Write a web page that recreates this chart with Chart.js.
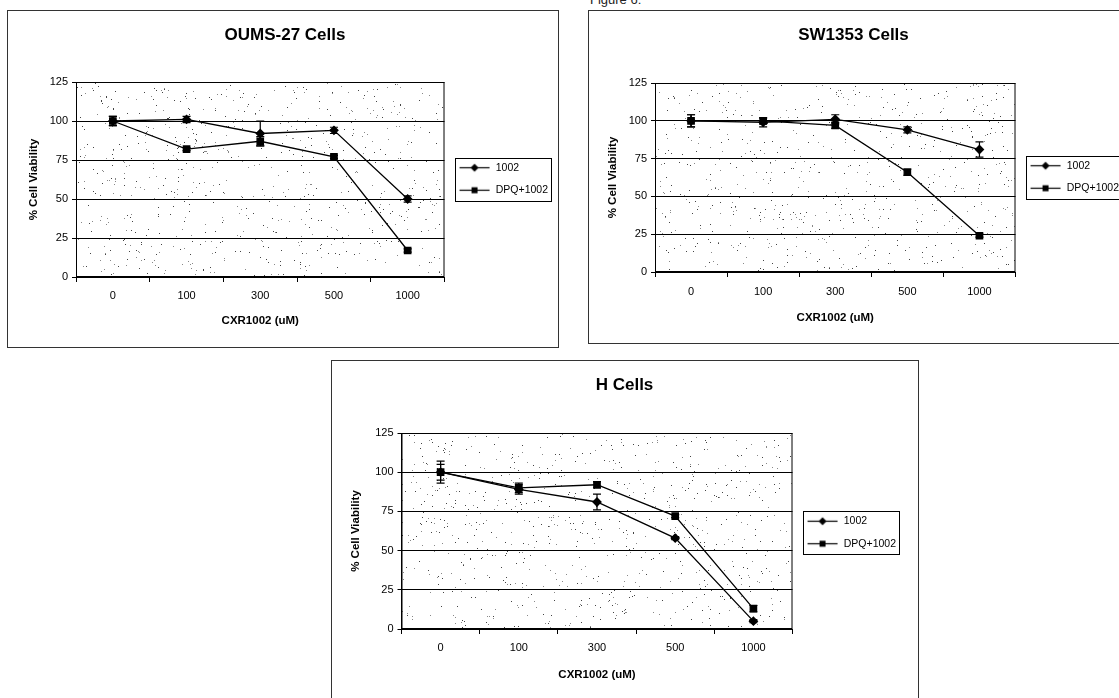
<!DOCTYPE html>
<html>
<head>
<meta charset="utf-8">
<script src="https://cdn.jsdelivr.net/npm/chart.js@4.4.1/dist/chart.umd.min.js"></script>
<style>
  body { margin:0; width:1119px; height:698px; overflow:hidden; background:#fff; position:relative;
         font-family:"Liberation Sans", Arial, sans-serif; }
  .frame { position:absolute; border:1px solid #333; box-sizing:border-box; }
  .wrap { position:absolute; }
  #fig { position:absolute; left:590px; top:-8px; font-size:13px; color:#222; }
</style>
</head>
<body>
<div id="fig">Figure 6:</div>

<div class="frame" style="left:7px;top:10px;width:552px;height:338px"></div>
<div class="frame" style="left:588px;top:10px;width:560px;height:334px"></div>
<div class="frame" style="left:331px;top:360px;width:588px;height:400px"></div>

<div class="wrap" style="left:12px;top:10px;width:546px;height:338px"><canvas id="c-oums"></canvas></div>
<div class="wrap" style="left:578px;top:10px;width:551px;height:334px"><canvas id="c-sw"></canvas></div>
<div class="wrap" style="left:343px;top:360px;width:563px;height:345px"><canvas id="c-h"></canvas></div>

<script>
// ---- data ----
const doses = ['0', '100', '300', '500', '1000'];
const seriesNames = ['1002', 'DPQ+1002'];

// OUMS-27 Cells
const oums1002 = [100, 101, 92, 94, 50];
const oums1002Err = [3, 2, 8, 2, 2];
const oumsDpq = [100, 82, 87, 77, 17];
const oumsDpqErr = [3, 1, 3, 1, 1];

// SW1353 Cells
const sw1002 = [100, 99, 101, 94, 81];
const sw1002Err = [4, 3, 3, 2, 5];
const swDpq = [100, 100, 97, 66, 24];
const swDpqErr = [4, 2, 2, 2, 1];

// H Cells
const h1002 = [100, 89, 81, 58, 5];
const h1002Err = [7, 3, 5, 1, 1];
const hDpq = [100, 90, 92, 72, 13];
const hDpqErr = [5, 3, 2, 1, 2];

const FONT = '"Liberation Sans", Arial, sans-serif';

// legend sample: short line with the marker in the middle
function legendSample(style) {
  const c = document.createElement('canvas');
  c.width = 34; c.height = 11;
  const g = c.getContext('2d');
  g.strokeStyle = '#000'; g.lineWidth = 1.2;
  g.beginPath(); g.moveTo(3, 5.5); g.lineTo(33, 5.5); g.stroke();
  g.fillStyle = '#000';
  if (style === 'rect') {
    g.fillRect(15, 2.5, 6, 6);
  } else {
    g.beginPath(); g.moveTo(18, 1.5); g.lineTo(22, 5.5); g.lineTo(18, 9.5); g.lineTo(14, 5.5); g.closePath(); g.fill();
  }
  return c;
}

// integer hash -> [0,1), only used for the scan speckle texture
function hash01(n) {
  n = Math.imul(n ^ (n >>> 16), 0x45d9f3b);
  n = Math.imul(n ^ (n >>> 16), 0x45d9f3b);
  n ^= n >>> 16;
  return (n >>> 0) / 4294967296;
}

// plot area: white with scanned speckle
const plotBg = {
  id: 'plotBg',
  beforeDraw(chart, args, opts) {
    const a = chart.chartArea, ctx = chart.ctx;
    ctx.save();
    ctx.fillStyle = '#fff';
    ctx.fillRect(a.left, a.top, a.width, a.height);
    const base = (opts.seed || 7) * 100003;
    const n = Math.round(a.width * a.height / 95);
    for (let i = 0; i < n; i++) {
      const x = a.left + hash01(base + i * 2) * a.width;
      const y = a.top + hash01(base + i * 2 + 1) * a.height;
      ctx.fillStyle = hash01(base + i * 7 + 3) < 0.5 ? '#444' : '#888';
      ctx.fillRect(Math.floor(x), Math.floor(y), 1, 1);
    }
    ctx.restore();
  },
  beforeDatasetsDraw(chart) {
    const a = chart.chartArea, ctx = chart.ctx;
    ctx.save();
    ctx.strokeStyle = '#000'; ctx.lineWidth = 1;
    ctx.strokeRect(a.left + 0.5, a.top + 0.5, a.width - 1, a.height - 1);
    ctx.restore();
  }
};

const errorBars = {
  id: 'errorBars',
  afterDatasetsDraw(chart) {
    const ctx = chart.ctx, y = chart.scales.y;
    ctx.save();
    ctx.strokeStyle = '#000'; ctx.lineWidth = 1.2;
    chart.data.datasets.forEach((ds, di) => {
      const meta = chart.getDatasetMeta(di);
      ds.errors.forEach((e, i) => {
        const p = meta.data[i], v = ds.data[i];
        const y1 = y.getPixelForValue(v + e), y2 = y.getPixelForValue(v - e);
        ctx.beginPath();
        ctx.moveTo(p.x, y1); ctx.lineTo(p.x, y2);
        ctx.moveTo(p.x - 4, y1); ctx.lineTo(p.x + 4, y1);
        ctx.moveTo(p.x - 4, y2); ctx.lineTo(p.x + 4, y2);
        ctx.stroke();
      });
    });
    ctx.restore();
  }
};

const legendBox = {
  id: 'legendBox',
  afterDraw(chart) {
    const hb = chart.legend && chart.legend.legendHitBoxes;
    if (!hb || !hb.length) return;
    const left = Math.min(...hb.map(b => b.left)) - 2;
    const right = Math.max(...hb.map(b => b.left + b.width)) + 3;
    const top = hb[0].top - 5;
    const last = hb[hb.length - 1];
    const bottom = last.top + last.height + 5;
    const ctx = chart.ctx;
    ctx.save();
    ctx.strokeStyle = '#000'; ctx.lineWidth = 1;
    ctx.strokeRect(Math.round(left) + 0.5, Math.round(top) + 0.5, Math.round(right - left), Math.round(bottom - top));
    ctx.restore();
  }
};

function drawPanel(id, title, plain, plainErr, dpq, dpqErr, g) {
  new Chart(document.getElementById(id), {
    type: 'line',
    data: {
      labels: doses,
      datasets: [
        { label: seriesNames[0], data: plain, errors: plainErr, borderColor: '#000', borderWidth: 1.3,
          pointStyle: 'rectRot', pointRadius: 4, backgroundColor: '#000', pointBorderColor: '#000' },
        { label: seriesNames[1], data: dpq, errors: dpqErr, borderColor: '#000', borderWidth: 1.3,
          pointStyle: 'rect', pointRadius: 4.5, backgroundColor: '#000', pointBorderColor: '#000' }
      ]
    },
    options: {
      responsive: true, maintainAspectRatio: false, animation: false,
      layout: { padding: 0 },
      plugins: {
        plotBg: { seed: g.seed },
        tooltip: { enabled: false },
        title: { display: true, text: title, color: '#000',
                 font: { family: FONT, size: 17, weight: 'bold' },
                 padding: { top: 14.8, bottom: g.titleBottom } },
        legend: {
          position: 'right', align: 'center',
          labels: {
            usePointStyle: true, pointStyleWidth: 34, padding: 12, color: '#000',
            font: { family: FONT, size: 10.5 },
            generateLabels: (chart) => chart.data.datasets.map((ds, i) => ({
              text: ds.label, pointStyle: legendSample(ds.pointStyle), datasetIndex: i,
              hidden: false, lineWidth: 0, fontColor: '#000'
            }))
          }
        }
      },
      scales: {
        x: {
          offset: true,
          afterFit: (s) => { s.height = g.xHeight; },
          grid: { display: true, offset: true, drawOnChartArea: false, drawTicks: true, tickLength: 5, color: '#000' },
          border: { display: true, color: '#000', width: 1 },
          ticks: { color: '#000', padding: g.xTickPad, maxRotation: 0, autoSkip: false, font: { family: FONT, size: 11 } },
          title: { display: true, text: 'CXR1002 (uM)', color: '#000',
                   font: { family: FONT, size: 11.5, weight: 'bold' }, padding: { top: 0, bottom: g.xTitleBottom } }
        },
        y: {
          min: 0, max: 125,
          afterFit: (s) => { s.width = g.yWidth; },
          grid: { color: '#000', lineWidth: 1, tickLength: 4 },
          border: { display: true, color: '#000', width: 1 },
          ticks: { stepSize: 25, color: '#000', padding: 4, font: { family: FONT, size: 11 } },
          title: { display: true, text: '% Cell Viability', color: '#000',
                   font: { family: FONT, size: 11.5, weight: 'bold' }, padding: { top: g.yTitlePad, bottom: 0 } }
        }
      }
    },
    plugins: [plotBg, errorBars, legendBox]
  });
}

drawPanel('c-oums', 'OUMS-27 Cells', oums1002, oums1002Err, oumsDpq, oumsDpqErr,
  { seed: 11, titleBottom: 36.8, xHeight: 71, xTickPad: 7.4, xTitleBottom: 20, yWidth: 64, yTitlePad: 15 });
drawPanel('c-sw', 'SW1353 Cells', sw1002, sw1002Err, swDpq, swDpqErr,
  { seed: 29, titleBottom: 37.8, xHeight: 72, xTickPad: 8.4, xTitleBottom: 19, yWidth: 77, yTitlePad: 28 });
drawPanel('c-h', 'H Cells', h1002, h1002Err, hDpq, hDpqErr,
  { seed: 53, titleBottom: 37.8, xHeight: 76, xTickPad: 7.4, xTitleBottom: 23, yWidth: 58.5, yTitlePad: 5.6 });
</script>
</body>
</html>
